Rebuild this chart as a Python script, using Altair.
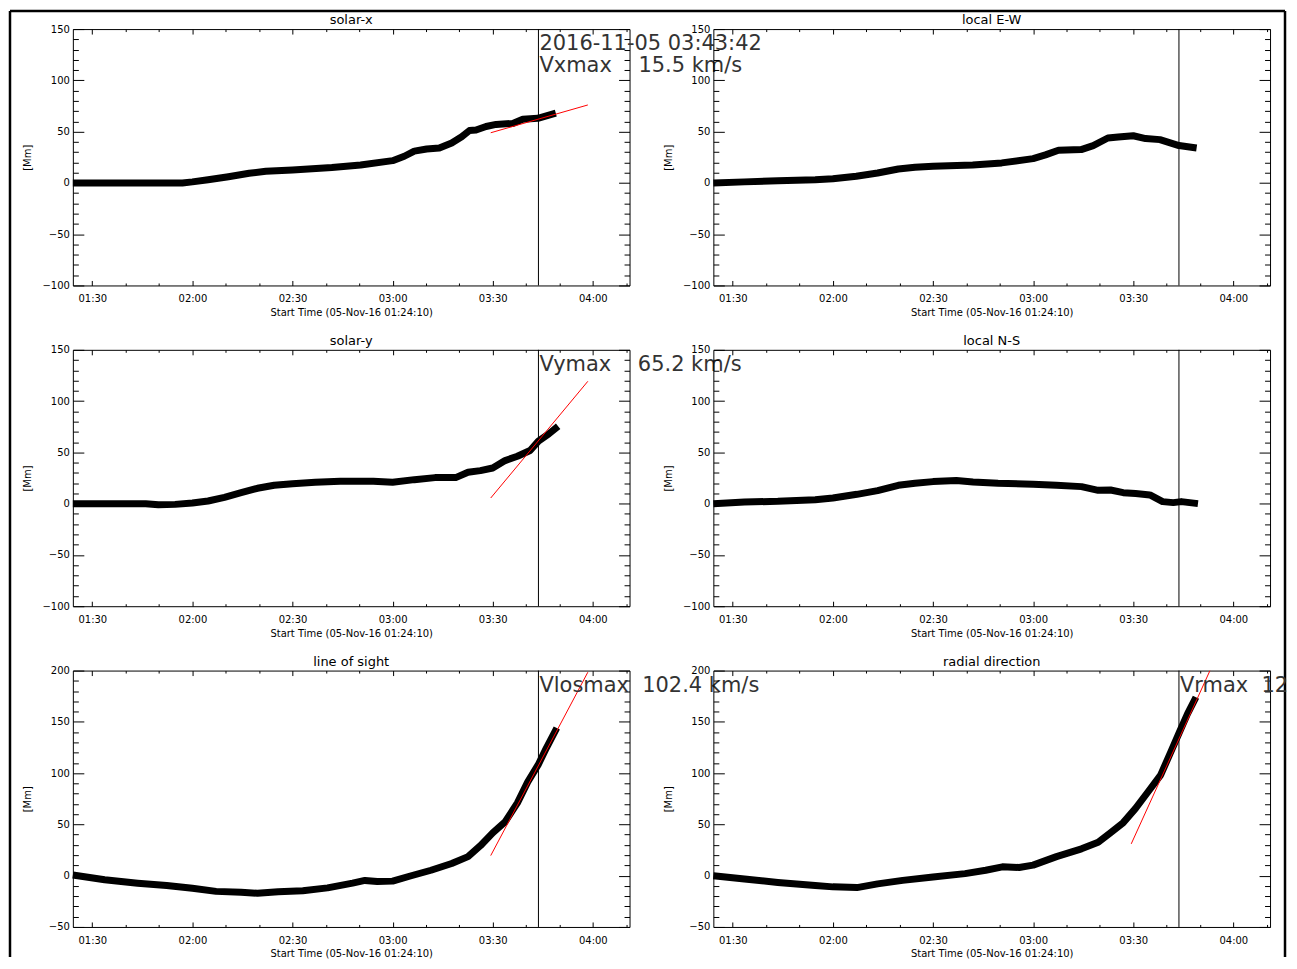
import altair as alt
import pandas as pd

# ---------------- data (time = minutes after 00:00 UT, 2016-11-05; values in Mm) ----------------
T_START = 84.17      # 01:24:10
T_END = 251.0        # right end of the time axis
T_EVENT = 223.7      # 03:43:42

X_TICK_VALUES = [90, 120, 150, 180, 210, 240]
X_TICK_LABELS = ["01:30", "02:00", "02:30", "03:00", "03:30", "04:00"]
X_MINOR = [100, 110, 130, 140, 160, 170, 190, 200, 220, 230, 250]

SOLAR_X_T = [84.17, 95, 105, 117, 120, 124.7, 130.8, 137, 142, 150, 161.8, 170.4, 180, 183.5, 186.5,
             190.2, 194, 197.7, 200.7, 203, 205, 208, 211, 216, 219, 223.5, 228.9]
SOLAR_X_V = [0, 0, 0, 0, 1, 3, 6, 9.4, 11.3, 12.6, 15, 17.5, 21.7, 26, 31,
             33, 34, 39, 45, 51, 51.5, 55, 57, 58, 62, 63, 68]

EW_T = [84.17, 93.5, 103.5, 114.7, 120, 127, 133.4, 139.6, 144.6, 150, 161.9, 170.6, 180, 183.7,
        187.6, 194.4, 198, 202.4, 205.5, 210, 213.7, 218, 223.7, 229]
EW_V = [0, 1, 2, 3, 4, 6.5, 9.7, 13.6, 15.3, 16.2, 17.5, 19.5, 23.7, 27.3,
        31.8, 32.5, 36.4, 43.8, 44.8, 46, 43.2, 42.2, 36.4, 34]

SOLAR_Y_T = [84.17, 95, 106, 109.8, 114.8, 120, 124.7, 129.6, 134.6, 139.5, 144.5, 150, 156.8, 164.3,
             174.2, 180, 186.5, 192.7, 198.9, 202.6, 206.3, 210, 213.7, 217.4, 221.2, 223.7, 226.8, 229.6]
SOLAR_Y_V = [0, 0, 0, -1, -0.7, 0.6, 2.6, 6.2, 10.7, 15, 17.9, 19.5, 20.8, 21.8,
             21.8, 20.8, 23.4, 25.4, 25.4, 30.6, 32.2, 34.8, 42, 46.2, 51.8, 60.9, 68, 75.5]

NS_T = [84.17, 93.5, 103.5, 114.7, 120, 127.2, 133.4, 139.6, 144.6, 150, 157, 162, 169.5, 180,
        187, 194.5, 199.5, 203.2, 207, 210.7, 215, 218.8, 222, 224.4, 229.4]
NS_V = [0, 1.6, 2.3, 3.9, 5.5, 9.1, 12.7, 17.9, 19.9, 21.5, 22.5, 21.2, 19.9, 18.9,
        17.9, 16.6, 13, 13.3, 10.7, 9.8, 8.5, 2, 1, 2, 0]

LOS_T = [84.17, 93.7, 103.6, 112.3, 120, 127.1, 134.6, 139.5, 145.7, 153.1, 160.5, 168, 171.7, 175.4,
         180, 185.3, 191.5, 197.7, 202.6, 206.3, 210, 213.7, 217.4, 220.5, 223.6, 226.1, 229.2]
LOS_V = [0.7, -4, -7.3, -9.6, -12.3, -15.3, -16.2, -17.2, -15.6, -14.6, -11.9, -7.3, -4.6, -5.6,
         -5.3, -0.3, 5.3, 11.9, 18.6, 29.2, 41.8, 52.4, 71, 91.5, 108, 124.7, 144]

RAD_T = [84.17, 93.5, 103.5, 114.7, 120, 127.2, 133.4, 140.9, 150, 159.6, 165.8, 170.8, 175.8, 180,
         187, 194.5, 199.5, 203.2, 207, 210.7, 214.4, 218.2, 221.3, 223.8, 226.3, 228.8]
RAD_V = [0, -3.3, -6.6, -9.6, -10.9, -11.6, -8, -4.6, -1.3, 2, 5.3, 8.6, 8, 10.3,
         18.6, 26.2, 32.5, 41.8, 51.7, 65.6, 81.6, 98, 121, 139.6, 158, 174]

# linear fits (red lines): (start time, end time) and the values there
SOLAR_X_FIT = ([209.4, 238.5], [48.9, 76.0])
SOLAR_Y_FIT = ([209.4, 238.5], [5.5, 119.3])
LOS_FIT = ([209.4, 238.5], [19.6, 198.4])
RAD_FIT = ([209.4, 233.0], [31.0, 200.0])   # leaves the plot at its top edge

NB = "\u00a0"
NOTES_SX = [("2016-11-05 03:43:42", 135), ("Vxmax" + NB * 4 + "15.5 km/s", 114)]
NOTES_SY = [("Vymax" + NB * 4 + "65.2 km/s", 135)]
NOTES_LOS = [("Vlosmax" + NB * 2 + "102.4 km/s", 185)]
NOTES_RAD = [("Vrmax" + NB * 2 + "120.2 km/s", 185)]

Y_DOM_A = [-100, 150]
Y_MAJOR_A = [-100, -50, 0, 50, 100, 150]
Y_DOM_B = [-50, 200]
Y_MAJOR_B = [-50, 0, 50, 100, 150, 200]

# ---------------- layout / style ----------------
W, H = 558, 257
FONT = "DejaVu Sans"
X_TITLE = "Start Time (05-Nov-16 01:24:10)"

LABEL_EXPR = ("[" + ",".join("'%s'" % s for s in X_TICK_LABELS) + "][indexof(["
              + ",".join(str(v) for v in X_TICK_VALUES) + "], datum.value)]")


def panel(title, t, v, ydom, ymajor, fit=None, notes=(), note_limit=None, frame=False):
    df = pd.DataFrame({"t": t, "v": v})
    xs = alt.Scale(domain=[T_START, T_END], nice=False, zero=False)
    ys = alt.Scale(domain=ydom, nice=False, zero=False)
    yminor = [y for y in range(ydom[0], ydom[1] + 1, 10) if y not in ymajor]
    base = alt.Chart(df)
    layers = []

    layers.append(base.mark_line(color="black", strokeWidth=7, strokeJoin="round").encode(
        x=alt.X("t:Q", scale=xs, axis=alt.Axis(
            orient="bottom", values=X_TICK_VALUES, labelExpr=LABEL_EXPR, ticks=False, tickSize=0,
            domain=False, grid=False, labelPadding=16.5, labelBaseline="alphabetic",
            labelFlush=False, labelOverlap=False, title=X_TITLE, titleX=W / 2, titleY=30,
            titleBaseline="alphabetic", titleAlign="center")),
        y=alt.Y("v:Q", scale=ys, axis=alt.Axis(
            orient="left", values=ymajor, format="d", ticks=False, tickSize=0, domain=False,
            grid=False, labelPadding=3.5, labelOverlap=False, title="[Mm]", titleX=-45,
            titleY=H / 2, titleAngle=270, titleBaseline="middle", titleAlign="center")),
    ))

    # inward-pointing box ticks on all four sides (axes shifted across the plot)
    def xt(values, size, orient):
        return base.mark_point(opacity=0).encode(
            x=alt.X("t:Q", scale=xs, axis=alt.Axis(
                orient=orient, offset=-H, values=values, tickSize=size, labels=False,
                domain=False, grid=False, title=None)),
            y=alt.Y("v:Q", scale=ys, axis=None))

    def yt(values, size, orient):
        return base.mark_point(opacity=0).encode(
            x=alt.X("t:Q", scale=xs, axis=None),
            y=alt.Y("v:Q", scale=ys, axis=alt.Axis(
                orient=orient, offset=-W, values=values, tickSize=size, labels=False,
                domain=False, grid=False, title=None)))

    layers += [xt(X_TICK_VALUES, 5, "top"), xt(X_MINOR, 2.5, "top"),
               xt(X_TICK_VALUES, 5, "bottom"), xt(X_MINOR, 2.5, "bottom"),
               yt(ymajor, 11, "right"), yt(yminor, 5.5, "right"),
               yt(ymajor, 11, "left"), yt(yminor, 5.5, "left")]

    layers.append(alt.Chart(pd.DataFrame({"t": [T_EVENT]})).mark_rule(
        color="black", strokeWidth=1).encode(x=alt.X("t:Q", scale=xs, axis=None)))

    if fit is not None:
        layers.append(alt.Chart(pd.DataFrame({"t": fit[0], "v": fit[1]})).mark_line(
            color="#ff0000", strokeWidth=1, clip=True).encode(
            x=alt.X("t:Q", scale=xs, axis=None), y=alt.Y("v:Q", scale=ys, axis=None)))

    if notes:
        ndf = pd.DataFrame({"t": [T_EVENT] * len(notes), "v": [n[1] for n in notes],
                            "label": [n[0] for n in notes]})
        kw = dict(align="left", baseline="middle", dx=1, font=FONT, fontSize=21, color="#333333")
        if note_limit is not None:
            kw.update(limit=note_limit, ellipsis="\u200b")
        layers.append(alt.Chart(ndf).mark_text(**kw).encode(
            x=alt.X("t:Q", scale=xs, axis=None), y=alt.Y("v:Q", scale=ys, axis=None),
            text="label:N"))

    title_offset = -13
    if frame:
        # black border round the whole figure (left, top and right edges)
        fr = alt.Chart(pd.DataFrame({"k": [0]})).mark_rule(color="black", strokeWidth=2.5)
        layers += [fr.encode(x=alt.value(-63), y=alt.value(-18), y2=alt.value(930)),
                   fr.encode(x=alt.value(-63), x2=alt.value(1215), y=alt.value(-18)),
                   fr.encode(x=alt.value(1215), y=alt.value(-18), y2=alt.value(930))]
        title_offset = -27.25   # the border raises this panel's bounds by ~14 px

    return alt.layer(*layers).resolve_axis(x="independent", y="independent").properties(
        width=W, height=H,
        title=alt.TitleParams(title, frame="group", offset=title_offset, baseline="alphabetic",
                              anchor="middle", font=FONT, fontSize=13, fontWeight="normal",
                              color="black"))


panels = [
    panel("solar-x", SOLAR_X_T, SOLAR_X_V, Y_DOM_A, Y_MAJOR_A, SOLAR_X_FIT, NOTES_SX, frame=True),
    panel("local E-W", EW_T, EW_V, Y_DOM_A, Y_MAJOR_A),
    panel("solar-y", SOLAR_Y_T, SOLAR_Y_V, Y_DOM_A, Y_MAJOR_A, SOLAR_Y_FIT, NOTES_SY),
    panel("local N-S", NS_T, NS_V, Y_DOM_A, Y_MAJOR_A),
    panel("line of sight", LOS_T, LOS_V, Y_DOM_B, Y_MAJOR_B, LOS_FIT, NOTES_LOS),
    panel("radial direction", RAD_T, RAD_V, Y_DOM_B, Y_MAJOR_B, RAD_FIT, NOTES_RAD, note_limit=112),
]

chart = alt.concat(*panels, columns=2, spacing={"row": 64.5, "column": 84},
                   bounds="flush").properties(
    padding={"left": 0, "top": 0, "right": 0, "bottom": 0}, background="white").configure_view(
    stroke="black", strokeWidth=1).configure_axis(
    labelFont=FONT, labelFontSize=10, labelColor="black", titleFont=FONT, titleFontSize=10,
    titleColor="black", titleFontWeight="normal", tickColor="black", tickWidth=1)

chart.save("out.html", embed_options={"renderer": "svg", "actions": False})
